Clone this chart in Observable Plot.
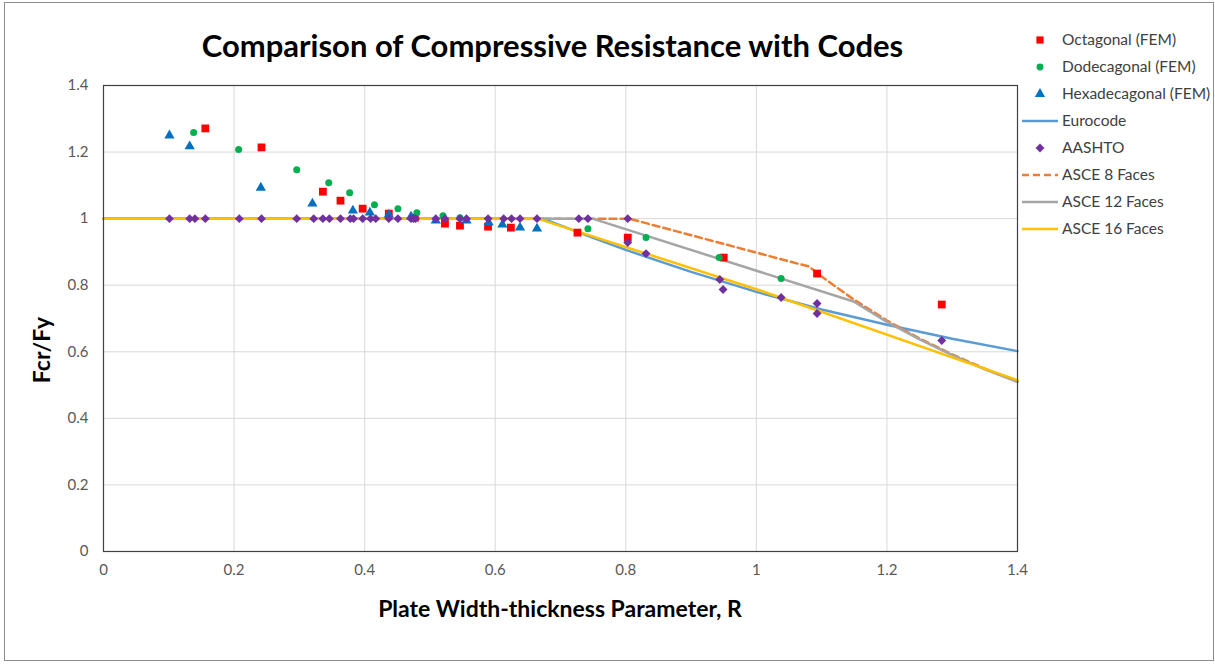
<!DOCTYPE html>
<html>
<head>
<meta charset="utf-8">
<script src="https://cdn.jsdelivr.net/npm/d3@7"></script>
<script src="https://cdn.jsdelivr.net/npm/@observablehq/plot@0.6"></script>
<style>
  html, body { margin: 0; padding: 0; background: #fff; }
  #wrap { position: relative; width: 1215px; height: 665px; overflow: hidden; font-family: Lato, "Open Sans", sans-serif; }
  #frame { position: absolute; left: 4px; top: 2px; width: 1210px; height: 659px; border: 1px solid #8c8c8c; box-sizing: border-box; pointer-events: none; }
  #title { position: absolute; left: 0; width: 1105px; top: 26px; text-align: center; font-weight: bold; font-size: 31px; color: #000; }
  #xlabel { position: absolute; left: 103px; width: 914px; top: 594px; text-align: center; font-weight: bold; font-size: 23px; color: #000; }
  #ylabel { position: absolute; left: 41px; top: 350px; transform: translate(-50%, -50%) rotate(-90deg); font-weight: bold; font-size: 23px; color: #000; white-space: nowrap; }
  #legend { position: absolute; left: 1020px; top: 27px; }
  #chart { position: absolute; left: 0; top: 0; }
</style>
</head>
<body>
<div id="wrap">
  <div id="chart"></div>
  <div id="title">Comparison of Compressive Resistance with Codes</div>
  <div id="xlabel">Plate Width-thickness Parameter, R</div>
  <div id="ylabel">Fcr/Fy</div>
  <div id="legend"></div>
  <div id="frame"></div>
</div>
<script>
// ---- Data ----
const xTicks = [0, 0.2, 0.4, 0.6, 0.8, 1, 1.2, 1.4];
const yTicks = [0, 0.2, 0.4, 0.6, 0.8, 1, 1.2, 1.4];

const octagonalR = [0.156, 0.242, 0.336, 0.363, 0.397, 0.437, 0.477, 0.523, 0.546, 0.589, 0.624, 0.726, 0.803, 0.950, 1.093, 1.284];
const octagonalV = [1.271, 1.214, 1.081, 1.054, 1.030, 1.015, 1.003, 0.985, 0.979, 0.976, 0.973, 0.958, 0.943, 0.883, 0.835, 0.742];

const dodecagonalR = [0.138, 0.207, 0.296, 0.345, 0.377, 0.415, 0.451, 0.480, 0.520, 0.546, 0.742, 0.831, 0.943, 1.038];
const dodecagonalV = [1.259, 1.208, 1.147, 1.108, 1.078, 1.042, 1.030, 1.018, 1.009, 1.003, 0.970, 0.943, 0.883, 0.820];

const hexadecagonalR = [0.101, 0.132, 0.241, 0.320, 0.382, 0.408, 0.437, 0.471, 0.509, 0.556, 0.590, 0.611, 0.638, 0.664];
const hexadecagonalV = [1.250, 1.217, 1.093, 1.045, 1.024, 1.018, 1.012, 1.006, 0.994, 0.994, 0.988, 0.982, 0.973, 0.970];

const aashtoR = [0.101, 0.132, 0.140, 0.156, 0.208, 0.242, 0.296, 0.322, 0.336, 0.346, 0.363, 0.378, 0.383, 0.397, 0.409, 0.417, 0.437, 0.451, 0.471, 0.475, 0.478, 0.509, 0.523, 0.546, 0.556, 0.589, 0.613, 0.625, 0.638, 0.664, 0.728, 0.742, 0.803, 0.803, 0.831, 0.944, 0.949, 1.038, 1.093, 1.093, 1.284];
const aashtoV = [1, 1, 1, 1, 1, 1, 1, 1, 1, 1, 1, 1, 1, 1, 1, 1, 1, 1, 1, 1, 1, 1, 1, 1, 1, 1, 1, 1, 1, 1, 1, 1, 1, 0.928, 0.895, 0.817, 0.787, 0.763, 0.745, 0.715, 0.634];

const eurocodeR = [0, 0.673, 0.70, 0.75, 0.80, 0.90, 1.00, 1.10, 1.20, 1.30, 1.40];
const eurocodeV = [1, 1, 0.980, 0.942, 0.906, 0.840, 0.780, 0.727, 0.681, 0.639, 0.602];

const asce8R = [0, 0.805, 1.00, 1.065, 1.08, 1.10, 1.15, 1.20, 1.25, 1.30, 1.35, 1.40];
const asce8V = [1, 1, 0.898, 0.864, 0.857, 0.826, 0.756, 0.694, 0.640, 0.592, 0.549, 0.510];

const asce12R = [0, 0.749, 1.149, 1.20, 1.25, 1.30, 1.35, 1.40];
const asce12V = [1, 1, 0.751, 0.690, 0.637, 0.590, 0.547, 0.510];

const asce16R = [0, 0.665, 1.00, 1.40];
const asce16V = [1, 1, 0.788, 0.515];

const seriesNames = ["Octagonal (FEM)", "Dodecagonal (FEM)", "Hexadecagonal (FEM)", "Eurocode", "AASHTO", "ASCE 8 Faces", "ASCE 12 Faces", "ASCE 16 Faces"];
const seriesColors = ["#FF0000", "#00B050", "#0070C0", "#5B9BD5", "#7030A0", "#ED7D31", "#A5A5A5", "#FFC000"];

// ---- build tables ----
const pts = (R, V) => R.map((r, i) => ({r, v: V[i]}));
const oct = pts(octagonalR, octagonalV);
const dod = pts(dodecagonalR, dodecagonalV);
const hex = pts(hexadecagonalR, hexadecagonalV);
const aas = pts(aashtoR, aashtoV);
const euro = pts(eurocodeR, eurocodeV);
const a8 = pts(asce8R, asce8V);
const a12 = pts(asce12R, asce12V);
const a16 = pts(asce16R, asce16V);

const lw = 2.5;
const fmt = d => String(+d.toFixed(1));
const chart = Plot.plot({
  width: 1215,
  height: 665,
  marginLeft: 103,
  marginRight: 198,
  marginTop: 85,
  marginBottom: 114,
  style: {fontFamily: "Lato, 'Open Sans', sans-serif", fontSize: "15px", color: "#595959", background: "transparent"},
  x: {domain: [0, 1.4], ticks: xTicks, label: null, tickFormat: fmt},
  y: {domain: [0, 1.4], ticks: yTicks, label: null, tickFormat: fmt},
  marks: [
    Plot.gridX(xTicks, {stroke: "#d9d9d9", strokeOpacity: 1, strokeWidth: 1}),
    Plot.gridY(yTicks, {stroke: "#d9d9d9", strokeOpacity: 1, strokeWidth: 1}),
    Plot.axisX({ticks: xTicks, tickSize: 0, tickPadding: 13, fill: "#595959", fontSize: 15, tickFormat: fmt}),
    Plot.axisY({ticks: yTicks, tickSize: 0, tickPadding: 15, fill: "#595959", fontSize: 15, tickFormat: fmt}),
    Plot.line(euro, {x: "r", y: "v", stroke: seriesColors[3], strokeWidth: lw}),
    Plot.line(a8, {x: "r", y: "v", stroke: seriesColors[5], strokeWidth: lw, strokeDasharray: "7,4"}),
    Plot.line(a12, {x: "r", y: "v", stroke: seriesColors[6], strokeWidth: lw}),
    Plot.line(a16, {x: "r", y: "v", stroke: seriesColors[7], strokeWidth: lw}),
    Plot.dot(oct, {x: "r", y: "v", symbol: "square", r: 4.4, fill: seriesColors[0], stroke: "none"}),
    Plot.dot(dod, {x: "r", y: "v", symbol: "circle", r: 3.5, fill: seriesColors[1], stroke: "none"}),
    Plot.dot(hex, {x: "r", y: "v", symbol: "triangle", r: 3.8, fill: seriesColors[2], stroke: "none"}),
    Plot.dot(aas, {x: "r", y: "v", symbol: "diamond2", r: 4, fill: seriesColors[4], stroke: "none"}),
    Plot.frame({stroke: "#404040", strokeWidth: 1.2})
  ]
});
document.getElementById("chart").appendChild(chart);

// ---- legend ----
const kinds = ["square", "circle", "triangle", "line", "diamond", "dash", "line", "line"];
const lg = d3.select("#legend").append("svg").attr("width", 195).attr("height", 220)
  .style("font-family", "Lato, 'Open Sans', sans-serif").style("font-size", "15.5px");
seriesNames.forEach((name, i) => {
  const y = 13 + i * 27;
  const g = lg.append("g").attr("transform", `translate(0,${y})`);
  const c = seriesColors[i];
  const k = kinds[i];
  if (k === "square") g.append("path").attr("d", d3.symbol(d3.symbolSquare, 52)()).attr("transform", "translate(20,0)").attr("fill", c);
  if (k === "circle") g.append("path").attr("d", d3.symbol(d3.symbolCircle, 38)()).attr("transform", "translate(20,0)").attr("fill", c);
  if (k === "triangle") g.append("path").attr("d", d3.symbol(d3.symbolTriangle, 45)()).attr("transform", "translate(20,0)").attr("fill", c);
  if (k === "diamond") g.append("path").attr("d", d3.symbol(d3.symbolDiamond2, 50)()).attr("transform", "translate(20,0)").attr("fill", c);
  if (k === "line") g.append("line").attr("x1", 2).attr("x2", 38).attr("y1", 0).attr("y2", 0).attr("stroke", c).attr("stroke-width", lw);
  if (k === "dash") g.append("line").attr("x1", 2).attr("x2", 38).attr("y1", 0).attr("y2", 0).attr("stroke", c).attr("stroke-width", lw).attr("stroke-dasharray", "7,4");
  g.append("text").attr("x", 42).attr("y", 0).attr("dy", "0.35em").attr("fill", "#404040").text(name);
});
</script>
</body>
</html>
